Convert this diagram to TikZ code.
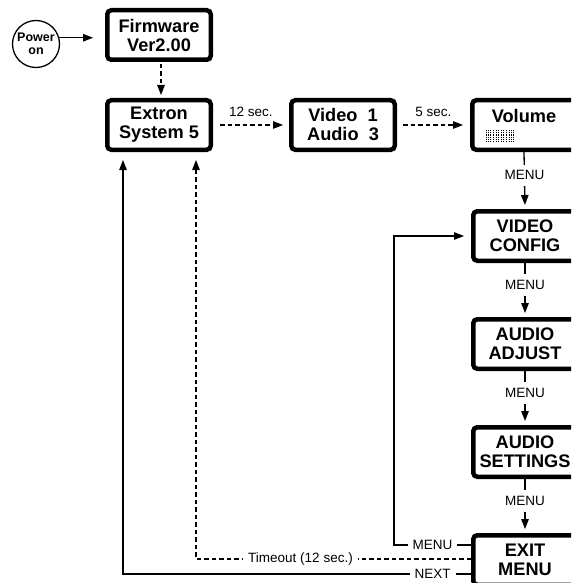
\documentclass[tikz,border=0pt]{standalone}
\usepackage{fontspec}
\setmainfont{Liberation Sans}
\usetikzlibrary{arrows.meta}
\begin{document}
\begin{tikzpicture}[x=1pt,y=-1pt,
  screen/.style={draw, line width=4.5pt, rounded corners=4pt,
    minimum width=103.5pt, minimum height=49.5pt, inner sep=0pt,
    align=center, font=\bfseries\fontsize{18.2}{19}\selectfont},
  start/.style={draw, circle, line width=1.3pt, inner sep=0pt,
    minimum size=47pt, align=center,
    font=\bfseries\fontsize{12.5}{13}\selectfont},
  link/.style={line width=1.3pt, -{Triangle[length=10pt,width=7.5pt]}},
  dlink/.style={link, dash pattern=on 4.5pt off 3pt},
  tag/.style={fill=white, inner xsep=5pt, inner ysep=6pt,
    font=\fontsize{13.5}{14}\selectfont},
  note/.style={inner sep=0pt, font=\fontsize{13.5}{14}\selectfont},
]
\clip (0,0) rectangle (571,583);

% start and first screens
\node[start] (pw) at (36,44) {Power\\on};
\node[screen] (fw)  at (159,35)  {Firmware\\Ver2.00};
\node[screen] (ext) at (159,125) {Extron\\System 5};
\node[screen] (vid) at (343,125) {Video\ \ 1\\Audio\ \ 3};
\node[screen] (vol) at (524,125) {Volume\\\vphantom{A}};

% volume bar graph
\foreach \g in {0,1,2}
  \foreach \c in {0,1,2,3}
    \draw[line width=0.9pt, dash pattern=on 0.9pt off 0.9pt]
      (486.5+\g*10.2+\c*2.2,130) -- (486.5+\g*10.2+\c*2.2,141.5);

% menu screens
\node[screen] (vc)   at (525,236) {VIDEO\\CONFIG};
\node[screen] (aa)   at (525,344) {AUDIO\\ADJUST};
\node[screen] (as)   at (525,452) {AUDIO\\SETTINGS};
\node[screen] (exit) at (525,560) {EXIT\\MENU};

% start-up sequence
\draw[link, shorten >=12pt] (pw.15) -- (pw.15 -| fw.west);
\draw[dlink, shorten <=2pt, shorten >=3pt]
  ([xshift=2pt]fw.south) -- ([xshift=2pt]ext.north);
\draw[dlink, shorten <=7pt, shorten >=6pt] (ext.east) --
  node[note, above=8pt] (t12) {12 sec.} (vid.west);
\draw[dlink, shorten <=6pt, shorten >=7pt] (vid.east) --
  node[note, above=8pt] (t5) {5 sec.} (vol.west);

% MENU steps
\draw[link, shorten >=4pt] (vol.south) -- node[tag, pos=0.41] (m1) {MENU} (vc.north);
\draw[link, shorten >=4pt] (vc.south)  -- node[tag, pos=0.41] (m2) {MENU} (aa.north);
\draw[link, shorten >=4pt] (aa.south)  -- node[tag, pos=0.41] (m3) {MENU} (as.north);
\draw[link, shorten >=4pt] (as.south)  -- node[tag, pos=0.41] (m4) {MENU} (exit.north);

% exits from the EXIT MENU screen
\coordinate (mn) at ([yshift=15pt]exit.west);
\coordinate (to) at ([yshift=1pt]exit.west);
\coordinate (nx) at ([yshift=-14pt]exit.west);
\coordinate (tx) at ([xshift=37pt]ext.south);
\coordinate (ny) at ([xshift=-36pt]ext.south);

\draw[link, shorten >=7pt] (mn) -- node[tag] (m5) {MENU} ++(-77,0) |- (vc.west);
\draw[dlink, shorten >=8pt] (to) -- node[tag, pos=0.62] (tt) {Timeout (12 sec.)}
  (to -| tx) -- (tx);
\draw[link, shorten >=8pt] (nx) -- node[tag, pos=0.11] (nt) {NEXT}
  (nx -| ny) -- (ny);
\end{tikzpicture}
\end{document}
